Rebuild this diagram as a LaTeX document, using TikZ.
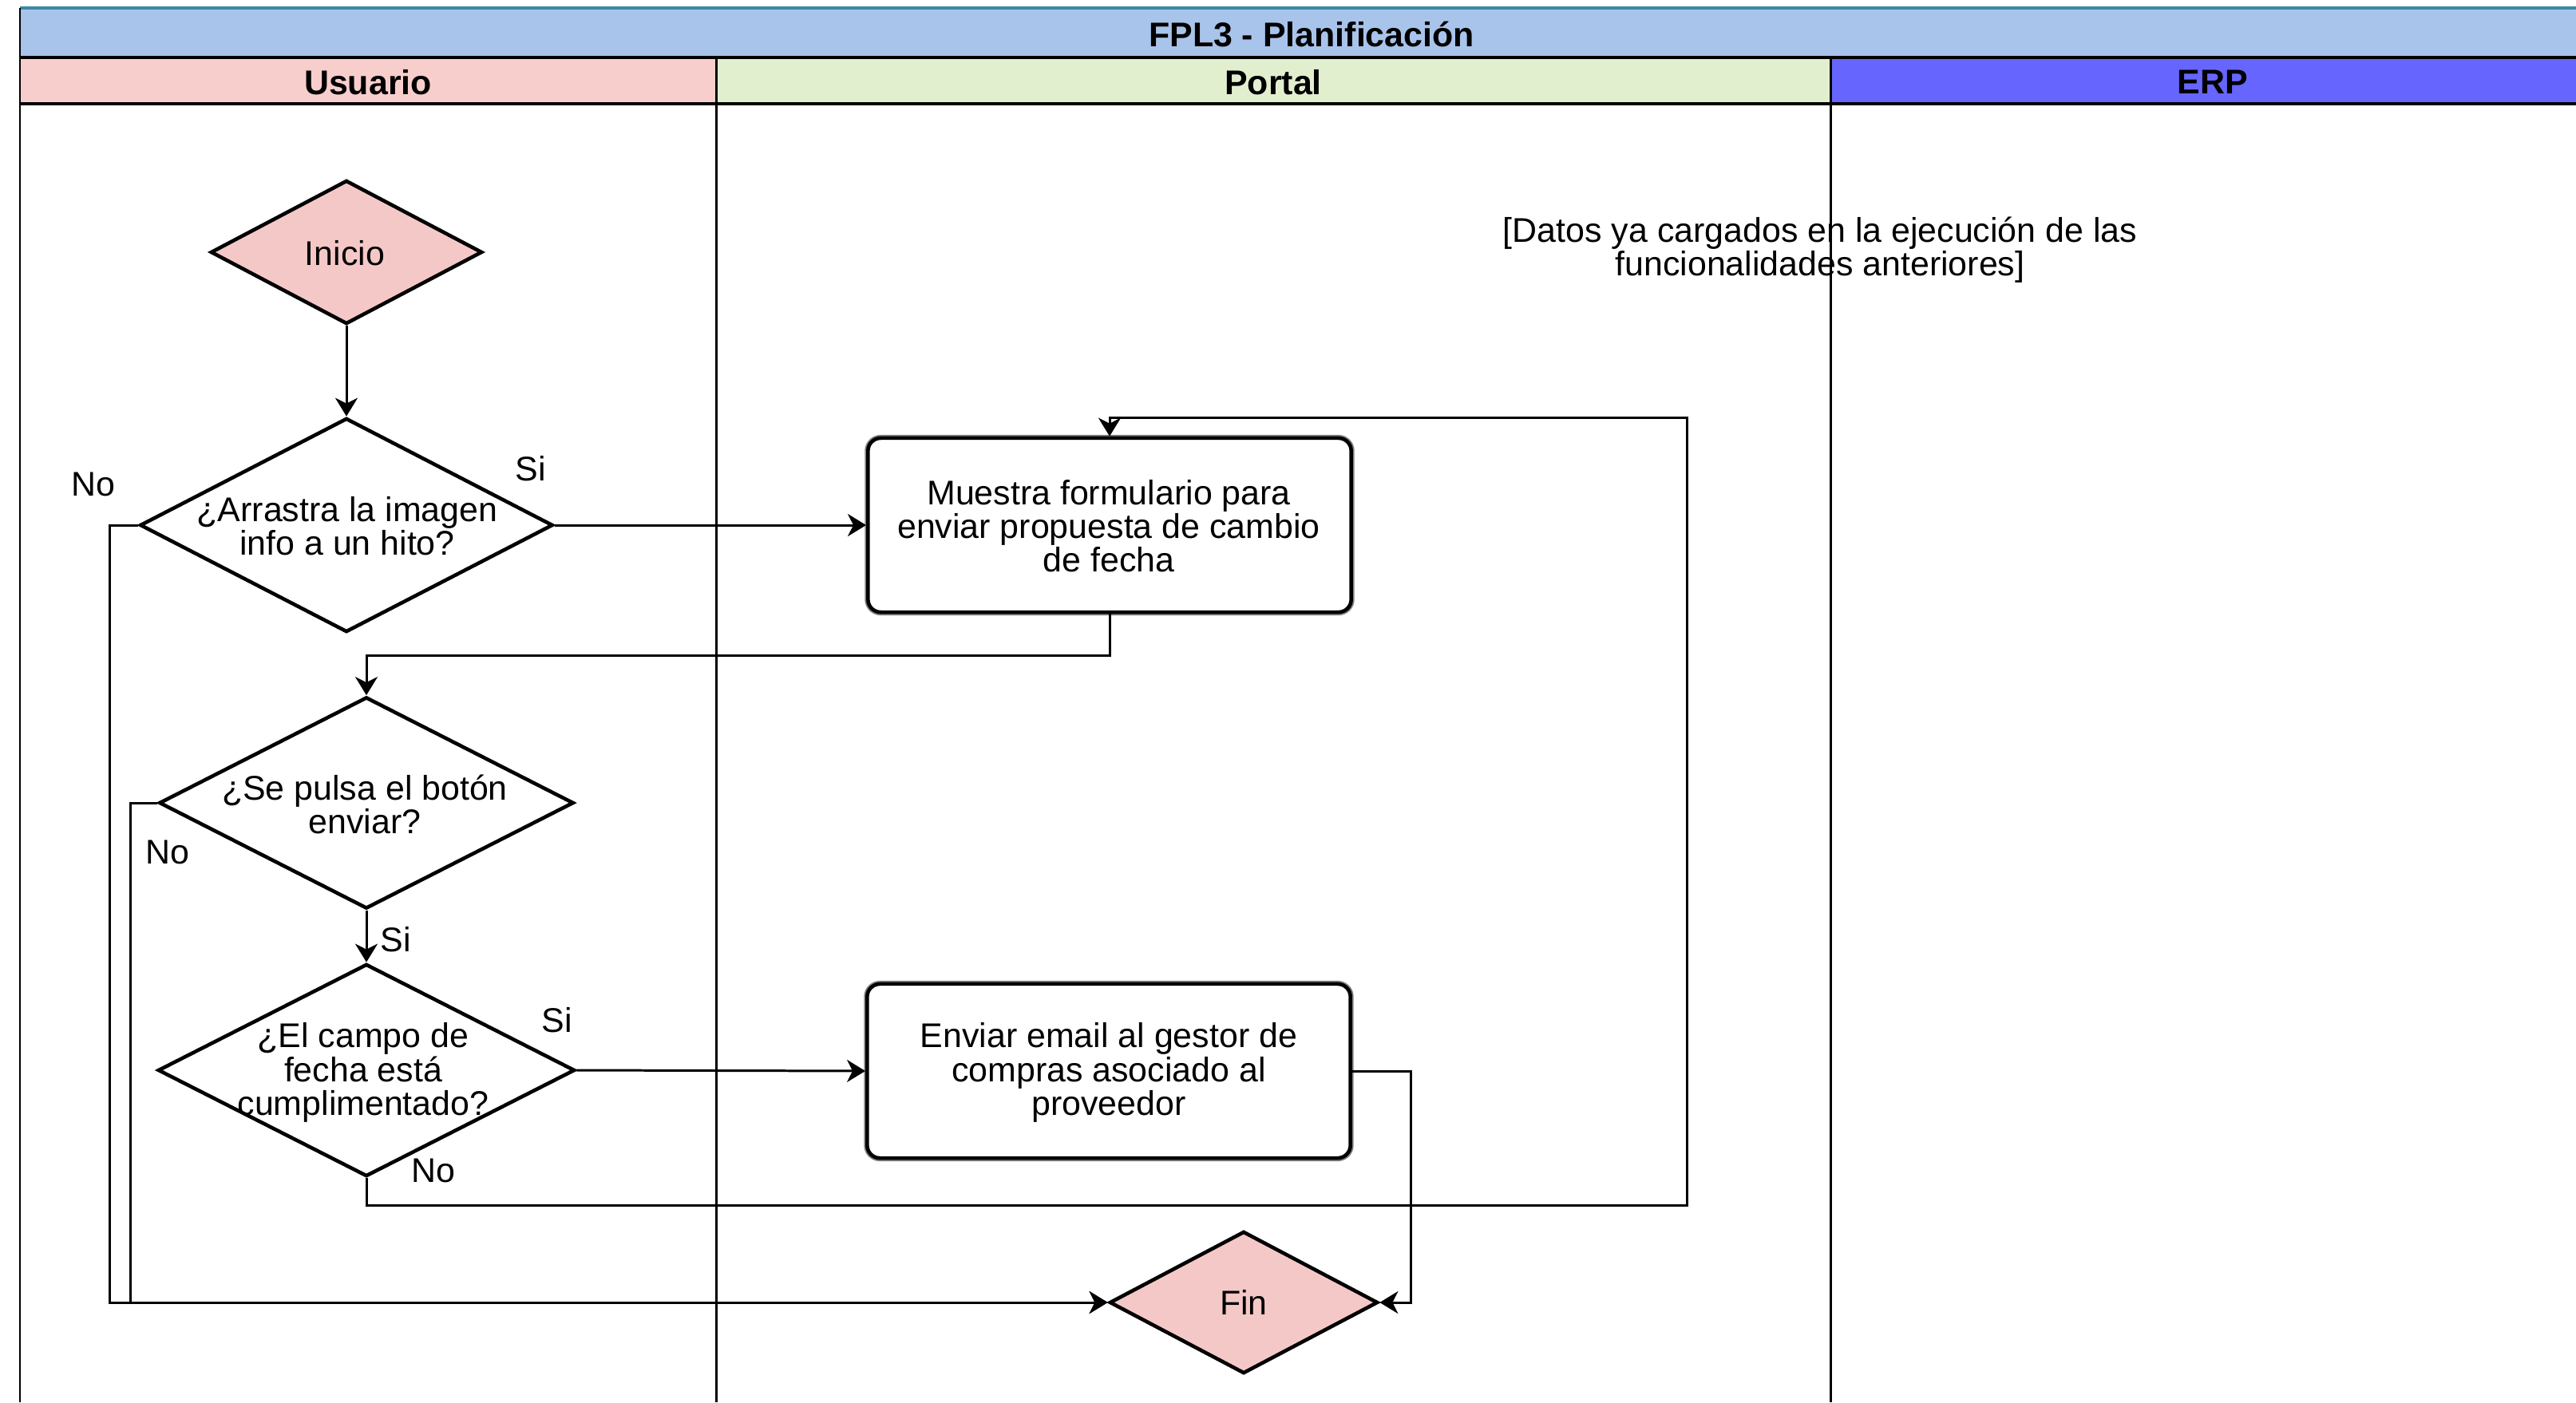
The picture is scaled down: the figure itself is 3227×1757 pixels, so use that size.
\documentclass[tikz,border=0pt]{standalone}
\usepackage{fontspec}
\setmainfont{Liberation Sans}
\usetikzlibrary{shapes.geometric,arrows.meta}
\definecolor{titleblue}{HTML}{A9C4EB}
\definecolor{usrpink}{HTML}{F8CECC}
\definecolor{portalgreen}{HTML}{E2EFCF}
\definecolor{erpblue}{HTML}{6666FF}
\definecolor{diapink}{HTML}{F5C8C8}
\definecolor{tealline}{HTML}{3A8AA6}
\tikzset{
  laneline/.style={line width=0.85pt, draw=black},
  headline/.style={line width=0.9pt, draw=black},
  dia/.style={diamond, draw=black, line width=1.3pt, inner sep=0pt, fill=white},
  pinkdia/.style={dia, fill=diapink},
  procbox/.style={rectangle, rounded corners=0.16cm, draw=black, line width=1.3pt, fill=white,
    minimum width=6.05cm, minimum height=2.18cm, inner sep=0pt,
    preaction={draw=black!50, line width=2.3pt}},
  txt/.style={align=center, inner sep=0pt},
  lbl/.style={inner sep=0pt},
  conn/.style={line width=0.85pt, -{Stealth[length=0.23cm,width=0.28cm,inset=0.07cm]}},
}
\begin{document}
\begin{tikzpicture}[x=0.01cm,y=-0.01cm, font=\fontsize{12.2}{12}\selectfont]
\useasboundingbox (0,0) rectangle (3227,1757);
% pool header
\fill[titleblue] (25,10) rectangle (3227,72);
\draw[tealline, line width=0.9pt] (25,10) -- (3227,10);
\fill[usrpink] (25,72) rectangle (897,130);
\fill[portalgreen] (897,72) rectangle (2293,130);
\fill[erpblue] (2293,72) rectangle (3227,130);
\node[lbl, font=\fontsize{12.2}{12}\selectfont\bfseries] (title) at (1643,43) {FPL3 - Planificación};
\node[lbl, font=\fontsize{12.2}{12}\selectfont\bfseries] (husr) at (461,103) {Usuario};
\node[lbl, font=\fontsize{12.2}{12}\selectfont\bfseries] (hportal) at (1595,103) {Portal};
\node[lbl, font=\fontsize{12.2}{12}\selectfont\bfseries] (herp) at (2772,103) {ERP};
% annotation
\node[txt] (nota) at (2280,313) {[Datos ya cargados en la ejecución de las\\funcionalidades anteriores]};
% lane lines
\draw[laneline] (25,10) -- (25,1757);
\draw[laneline] (897,72) -- (897,1757);
\draw[laneline] (2293,72) -- (2293,1757);
\draw[headline] (25,72) -- (3227,72);
\draw[headline] (25,130) -- (3227,130);
% shapes
\node[pinkdia, minimum width=3.40cm, minimum height=1.80cm] (inicio) at (434,316) {};
\node[txt] (inicioT) at (432,317) {Inicio};
\node[dia, minimum width=5.17cm, minimum height=2.68cm] (arr) at (434,658) {};
\node[txt] (arrT) at (435,659) {¿Arrastra la imagen\\info a un hito?};
\node[procbox] (box1) at (1390,658) {};
\node[txt] (box1T) at (1389,659) {Muestra formulario para\\enviar propuesta de cambio\\de fecha};
\node[dia, minimum width=5.19cm, minimum height=2.65cm] (send) at (459,1006) {};
\node[txt] (sendT) at (457,1008) {¿Se pulsa el botón\\enviar?};
\node[dia, minimum width=5.22cm, minimum height=2.66cm] (campo) at (459,1341) {};
\node[txt] (campoT) at (455,1344) {¿El campo de\\fecha está\\cumplimentado?};
\node[procbox] (box2) at (1389,1342) {};
\node[txt] (box2T) at (1389,1344) {Enviar email al gestor de\\compras asociado al\\proveedor};
\node[pinkdia, minimum width=3.36cm, minimum height=1.78cm] (fin) at (1558,1632) {};
\node[txt] (finT) at (1558,1632) {Fin};
% labels
\node[lbl] (noA) at (117,607) {No};
\node[lbl] (siA) at (665,587) {Si};
\node[lbl] (noS) at (210,1068) {No};
\node[lbl] (siS) at (496,1177) {Si};
\node[lbl] (siC) at (698,1278) {Si};
\node[lbl] (noC) at (543,1467) {No};
% connectors
\coordinate (loopBR) at (2113,1510);
\coordinate (loopTR) at (2113,523);
\draw[conn] (inicio.south) -- (arr.north);
\draw[conn] (arr.east) -- (box1.west);
\draw[conn] (arr.west) -- ++(-36,0) |- (fin.west);
\draw[conn] (send.west) -- ++(-34,0) |- (fin.west);
\draw[conn] (box1.south) -- ++(0,52) -| (send.north);
\draw[conn] (send.south) -- (campo.north);
\draw[conn] (campo.east) -- (box2.west);
\draw[conn] (box2.east) -- ++(74,0) |- (fin.east);
\draw[conn] (campo.south) |- (loopBR) -- (loopTR) -| (box1.north);
\end{tikzpicture}
\end{document}
